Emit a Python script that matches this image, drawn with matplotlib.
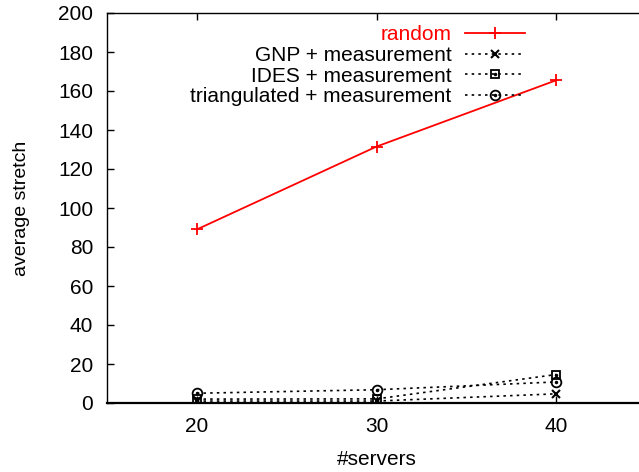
import matplotlib
matplotlib.use("Agg")
import matplotlib.pyplot as plt
from matplotlib.legend_handler import HandlerTuple

servers = [20, 30, 40]
random_stretch = [89.0, 131.5, 165.5]
gnp_stretch = [1.0, 1.0, 4.7]
ides_stretch = [2.0, 2.1, 14.6]
tri_stretch = [5.0, 6.8, 10.8]

labels = ["random", "GNP + measurement", "IDES + measurement",
          "triangulated + measurement"]

plt.rcParams["font.family"] = ["Liberation Sans", "DejaVu Sans"]
plt.rcParams["font.size"] = 15

fig = plt.figure(figsize=(6.39, 4.72), dpi=100)
ax = fig.add_axes([107 / 639, 69 / 472, (646 - 107) / 639, (403 - 13) / 472])

dots = (0, (1.5, 2.5))

h_rand, = ax.plot(servers, random_stretch, color="red", linewidth=1.3,
                  marker="+", markersize=8, markeredgewidth=1.3)
h_gnp, = ax.plot(servers, gnp_stretch, color="black", linestyle=dots,
                 linewidth=1.2, marker="x", markersize=6, markeredgewidth=1.5)
h_ides, = ax.plot(servers, ides_stretch, color="black", linestyle=dots,
                  linewidth=1.2, marker="s", markersize=6, fillstyle="none",
                  markeredgewidth=1.3)
c_ides, = ax.plot(servers, ides_stretch, color="black", linestyle="none",
                  marker=".", markersize=3)
h_tri, = ax.plot(servers, tri_stretch, color="black", linestyle=dots,
                 linewidth=1.2, marker="o", markersize=7, fillstyle="none",
                 markeredgewidth=1.3)
c_tri, = ax.plot(servers, tri_stretch, color="black", linestyle="none",
                 marker=".", markersize=3)

ax.set_xlim(15, 45)
ax.set_ylim(0, 200)
ax.set_xticks(servers)
ax.set_yticks(range(0, 201, 20))
ax.tick_params(direction="in", length=5, width=1, top=True, right=True, pad=10)
for s in ax.spines.values():
    s.set_linewidth(1.0)
ax.spines["bottom"].set_linewidth(1.6)

ax.set_xlabel("#servers", labelpad=10)
ax.set_ylabel("average stretch", labelpad=20, fontsize=14)

leg = fig.legend([h_rand, h_gnp, (h_ides, c_ides), (h_tri, c_tri)], labels,
                 handler_map={tuple: HandlerTuple(ndivide=1)},
                 loc="upper right", bbox_to_anchor=(535 / 639, 1 - 15 / 472),
                 markerfirst=False, frameon=False, borderpad=0,
                 handlelength=2.85, handletextpad=0.65, labelspacing=0.08,
                 fontsize=15)
leg.get_texts()[0].set_color("red")

fig.savefig("out.png", dpi=100)
